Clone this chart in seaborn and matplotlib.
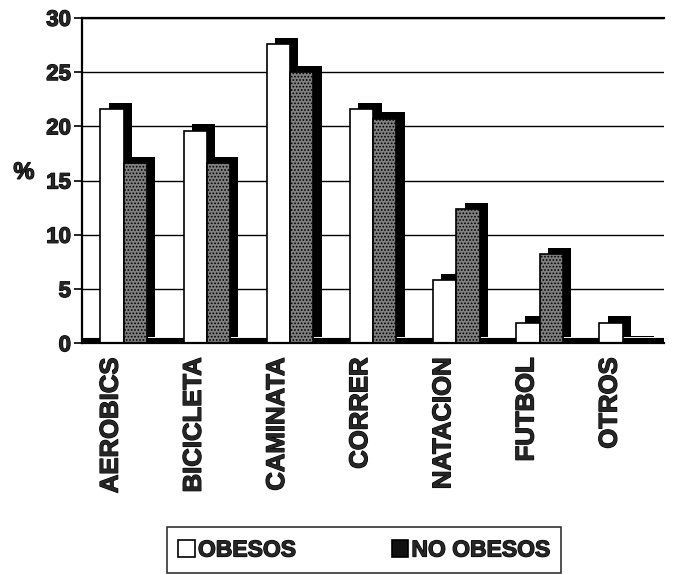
import numpy as np
import pandas as pd
import seaborn as sns
import matplotlib
matplotlib.use('Agg')
import matplotlib.pyplot as plt
import matplotlib.patheffects as pe
import matplotlib.transforms as mtrans

categories = ['AEROBICS', 'BICICLETA', 'CAMINATA', 'CORRER', 'NATACION', 'FUTBOL', 'OTROS']
obesos = [21.6, 19.6, 27.6, 21.6, 5.8, 1.9, 1.9]
no_obesos = [16.6, 16.6, 25.0, 20.7, 12.4, 8.2, 0.1]
series = ['OBESOS', 'NO OBESOS']
y_ticks = [0, 5, 10, 15, 20, 25, 30]

df = pd.DataFrame({
    'actividad': categories * 2,
    'serie': [series[0]] * len(categories) + [series[1]] * len(categories),
    'pct': obesos + no_obesos,
})

sns.set_style('white')
plt.rcParams['font.family'] = ['Liberation Sans', 'DejaVu Sans']
plt.rcParams['font.weight'] = 'bold'
plt.rcParams['hatch.linewidth'] = 0.8

heavy = [pe.withStroke(linewidth=0.9, foreground='black')]

fig = plt.figure(figsize=(6.73, 5.75), dpi=100)
ax = fig.add_axes([0.122, 0.403, 0.865, 0.566])

sns.barplot(data=df, x='actividad', y='pct', hue='serie', order=categories,
            hue_order=series, palette=['white', '#808080'], width=0.56, gap=0,
            edgecolor='black', linewidth=1.2, saturation=1, ax=ax)

# fake 3D depth: black offset shadow up and right of each bar
n = len(categories)
for i, bar in enumerate(ax.patches[:2 * n]):
    if i >= n:
        bar.set_hatch('.....')
    bar.set_path_effects([pe.SimplePatchShadow(offset=(6, 4.5), shadow_rgbFace='black', alpha=1),
                          pe.Normal()])

ax.set_ylim(0, 30)
ax.set_xlim(-0.5, n - 0.5)
ax.set_yticks(y_ticks)
ax.set_yticklabels([str(t) for t in y_ticks], fontsize=16, fontweight='bold')
ax.yaxis.grid(True, color='black', linewidth=1)
ax.set_axisbelow(True)

ax.set_xticks(range(n))
ax.set_xticklabels(categories, rotation=90, fontsize=18.5, fontweight='bold')
ax.set_xticks(np.arange(n + 1) - 0.5, minor=True)
ax.tick_params(axis='x', which='major', length=0, pad=10)
ax.tick_params(axis='x', which='minor', length=7, width=1.2, direction='out', color='black')
ax.tick_params(axis='y', length=6, width=1.2, direction='out', color='black', left=True, pad=2)

shift = mtrans.ScaledTranslation(-0.13, 0, fig.dpi_scale_trans)
for lab in ax.get_xticklabels():
    lab.set_transform(lab.get_transform() + shift)
    lab.set_path_effects(heavy)
for lab in ax.get_yticklabels():
    lab.set_path_effects(heavy)

# floor
ax.axhline(0, color='black', linewidth=8, zorder=0.5)

for s in ['left', 'bottom', 'top']:
    ax.spines[s].set_color('black')
    ax.spines[s].set_linewidth(1.6)
ax.spines['right'].set_visible(False)

ax.set_xlabel('')
ax.set_ylabel('%', rotation=0, fontsize=17, fontweight='bold', path_effects=heavy)
ax.yaxis.set_label_coords(-0.1, 0.49)

handles, labels = ax.get_legend_handles_labels()
ax.get_legend().remove()
for h in handles:
    h.set_path_effects([])
handles[1].set_facecolor('#111111')
leg = fig.legend(handles, labels, loc='center', bbox_to_anchor=(0.541, 0.0435), ncol=2,
                 frameon=True, fancybox=False, edgecolor='black',
                 handlelength=0.7, handleheight=0.8, handletextpad=0.15, columnspacing=4.2,
                 borderpad=0.5, borderaxespad=0, prop={'weight': 'bold', 'size': 16.5})
leg.get_frame().set_linewidth(1.2)
for t in leg.get_texts():
    t.set_path_effects(heavy)

fig.savefig('out.png', dpi=100)
